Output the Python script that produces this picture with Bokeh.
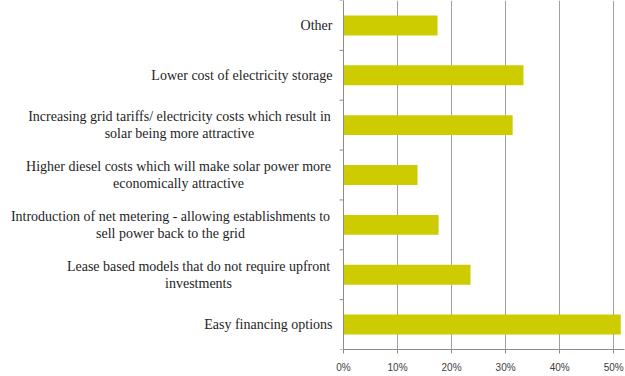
from bokeh.plotting import figure
from bokeh.models import FixedTicker, Range1d, ColumnDataSource, Label, Span
from bokeh.embed import file_html
from bokeh.resources import INLINE

# Data (bottom to top)
categories = [
    "Easy financing options",
    "Lease based models that do not require upfront\ninvestments",
    "Introduction of net metering - allowing establishments to\nsell power back to the grid",
    "Higher diesel costs which will make solar power more\neconomically attractive",
    "Increasing grid tariffs/ electricity costs which result in\nsolar being more attractive",
    "Lower cost of electricity storage",
    "Other",
]
values = [51.3, 23.5, 17.6, 13.7, 31.3, 33.3, 17.4]
x_ticks = [0, 10, 20, 30, 40, 50]
x_tick_labels = ["0%", "10%", "20%", "30%", "40%", "50%"]

ypos = [i + 0.5 for i in range(len(categories))]
src = ColumnDataSource(dict(y=ypos, v=values, cat=categories))

# layout: frame spans the whole width; value 0 sits at pixel 343
W, H = 625, 376
FRAME_W = W - 1
ZERO_PX = 343
X_END = 52.0
x_start = -X_END * ZERO_PX / (FRAME_W - ZERO_PX)
units_per_px = (X_END - x_start) / FRAME_W

p = figure(width=W, height=H, output_backend="svg", toolbar_location=None,
           x_range=Range1d(x_start, X_END), y_range=Range1d(0, len(categories)),
           y_axis_type=None,
           min_border_left=0, min_border_right=1, min_border_top=0,
           min_border_bottom=27)
p.outline_line_color = None
p.background_fill_color = "white"
p.border_fill_color = "white"

p.hbar(y="y", right="v", left=0, height=0.4, source=src,
       fill_color="#CCCC00", line_color=None)

# vertical axis line at 0 with tick marks between categories
axis_col = "#8c8c8c"
p.add_layout(Span(location=0, dimension="height", line_color=axis_col, line_width=1))
bounds = list(range(len(categories) + 1))
p.segment(x0=[0] * len(bounds), y0=bounds, x1=[-4 * units_per_px] * len(bounds), y1=bounds,
          line_color=axis_col, line_width=1)

# category labels (screen x from frame left = page left)
label_right = 332
block_centres = {1: 198, 2: 170, 3: 178, 4: 179}
for i, (y, c) in enumerate(zip(ypos, categories)):
    if "\n" in c:
        lab = Label(x=block_centres[i], x_units="screen", y=y, text=c,
                    text_align="center", text_baseline="middle")
    else:
        lab = Label(x=label_right, x_units="screen", y=y, text=c,
                    text_align="right", text_baseline="middle")
    lab.text_font = "serif"
    lab.text_font_size = "14px"
    lab.text_color = "#1e1e1e"
    lab.text_line_height = 1.15
    p.add_layout(lab)

# x axis
p.xaxis.bounds = (0, X_END)
p.xaxis.ticker = FixedTicker(ticks=x_ticks, minor_ticks=[])
p.xaxis.major_label_overrides = {t: l for t, l in zip(x_ticks, x_tick_labels)}
p.xaxis.major_label_text_font = "sans-serif"
p.xaxis.major_label_text_font_size = "10px"
p.xaxis.major_label_text_color = "#404040"
p.xaxis.axis_line_color = axis_col
p.xaxis.major_tick_line_color = axis_col
p.xaxis.major_tick_out = 4
p.xaxis.major_tick_in = 0
p.xaxis.major_label_standoff = 8

p.xgrid.grid_line_color = "#a0a0a0"
p.xgrid.grid_line_width = 1
p.ygrid.grid_line_color = None

open("out.html", "w").write(file_html(p, INLINE))
